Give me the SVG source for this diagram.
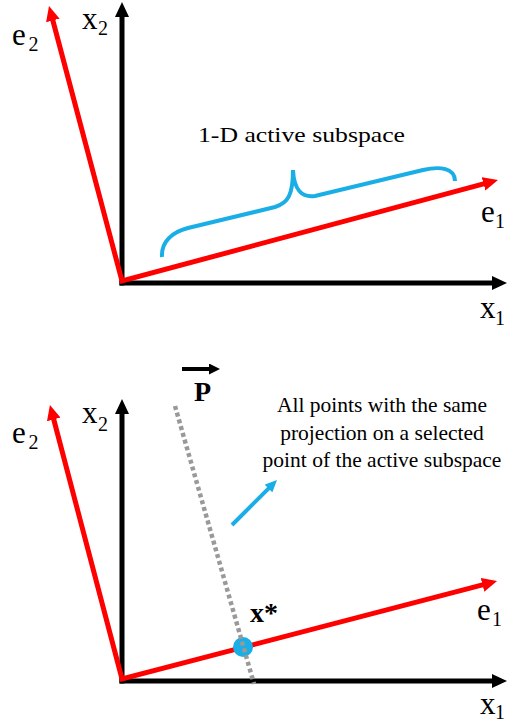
<svg xmlns="http://www.w3.org/2000/svg" width="507" height="725" viewBox="0 0 507 725">
<style>
.axis{stroke:#000;stroke-width:5;fill:none}
.basis{stroke:#ff0000;stroke-width:5;fill:none;stroke-linejoin:miter}
.lbl{font-family:"Liberation Serif","Times New Roman",serif;font-size:31px;fill:#000}
.sub{font-size:20px}
.txt{font-family:"Liberation Serif","Times New Roman",serif;font-size:21.5px;fill:#000}
.bold{font-family:"Liberation Serif","Times New Roman",serif;font-weight:bold;font-size:28px;fill:#000}
.blue{stroke:#1aaee6;stroke-width:4;fill:none}
.proj{stroke:#999999;stroke-width:4.5;stroke-dasharray:4 3;fill:none}
</style>
<defs>
<marker id="hk" viewBox="0 0 15 14" refX="1" refY="7" markerWidth="15" markerHeight="14" markerUnits="userSpaceOnUse" orient="auto"><path d="M0,0 L15,7 L0,14 z" fill="#000"/></marker>
<marker id="hr" viewBox="0 0 15 14" refX="1" refY="7" markerWidth="15" markerHeight="14" markerUnits="userSpaceOnUse" orient="auto-start-reverse"><path d="M0,0 L15,7 L0,14 z" fill="#ff0000"/></marker>
<marker id="hb" viewBox="0 0 12 11" refX="1" refY="5.5" markerWidth="12" markerHeight="11" markerUnits="userSpaceOnUse" orient="auto"><path d="M0,0 L12,5.5 L0,11 z" fill="#1aaee6"/></marker>
<marker id="hp" viewBox="0 0 11 11" refX="1" refY="5.5" markerWidth="11" markerHeight="11" markerUnits="userSpaceOnUse" orient="auto"><path d="M0,0 L11,5.5 L0,11 z" fill="#000"/></marker>
</defs>

<g id="top-axes">
<line class="axis" x1="122" y1="285.5" x2="122" y2="16" marker-end="url(#hk)"/>
<line class="axis" x1="119.5" y1="283" x2="493" y2="283" marker-end="url(#hk)"/>
</g>
<g id="top-basis">
<path class="basis" d="M52.6,19.5 L122,281 L484.5,183.6" marker-start="url(#hr)" marker-end="url(#hr)"/>
</g>
<g id="top-brace">
<path class="blue" d="M162,257 C161,242 172,232 188,228 L275,207 C288,203 293,195 293,170 C294,190 302,198 315,196 L423,170 C440,166 455,168 455,181"/>
<text class="txt" x="198" y="142" font-size="22" textLength="207" lengthAdjust="spacingAndGlyphs">1-D active subspace</text>
</g>
<g id="top-labels">
<text class="lbl" x="12" y="45">e<tspan class="sub" x="28.5" y="51">2</tspan></text>
<text class="lbl" x="82" y="28.5">x<tspan class="sub" x="98" y="35">2</tspan></text>
<text class="lbl" x="481" y="222">e<tspan class="sub" x="495" y="228">1</tspan></text>
<text class="lbl" x="480" y="318">x<tspan class="sub" x="495" y="325">1</tspan></text>
</g>

<g id="bottom-axes">
<line class="axis" x1="122" y1="683.5" x2="122" y2="413" marker-end="url(#hk)"/>
<line class="axis" x1="119.5" y1="681" x2="493" y2="681" marker-end="url(#hk)"/>
</g>
<g id="bottom-basis">
<path class="basis" d="M53.5,418.5 L122,679 L483.5,584.6" marker-start="url(#hr)" marker-end="url(#hr)"/>
</g>
<g id="xstar">
<circle cx="243" cy="647" r="10" fill="#1aaee6"/>
<text class="bold" x="250" y="622" font-size="30">x*</text>
</g>
<g id="connectors">
<line class="proj" x1="175" y1="406" x2="254" y2="684"/>
<line stroke="#000" stroke-width="4" x1="182" y1="369" x2="210" y2="369" marker-end="url(#hp)"/>
<line class="blue" x1="232" y1="525" x2="269.2" y2="487.8" marker-end="url(#hb)"/>
</g>
<g id="P">
<text class="bold" x="194" y="401" font-size="30">P</text>
</g>
<g id="note">
<text class="txt" text-anchor="middle"><tspan x="382" y="412">All points with the same</tspan><tspan x="382" y="439.5">projection on  a selected</tspan><tspan x="382" y="467">point of the active subspace</tspan></text>
</g>
<g id="bottom-labels">
<text class="lbl" x="12" y="443">e<tspan class="sub" x="28.5" y="449">2</tspan></text>
<text class="lbl" x="82" y="423">x<tspan class="sub" x="98" y="431">2</tspan></text>
<text class="lbl" x="477" y="620">e<tspan class="sub" x="492" y="626">1</tspan></text>
<text class="lbl" x="480" y="714">x<tspan class="sub" x="495" y="719">1</tspan></text>
</g>
</svg>
